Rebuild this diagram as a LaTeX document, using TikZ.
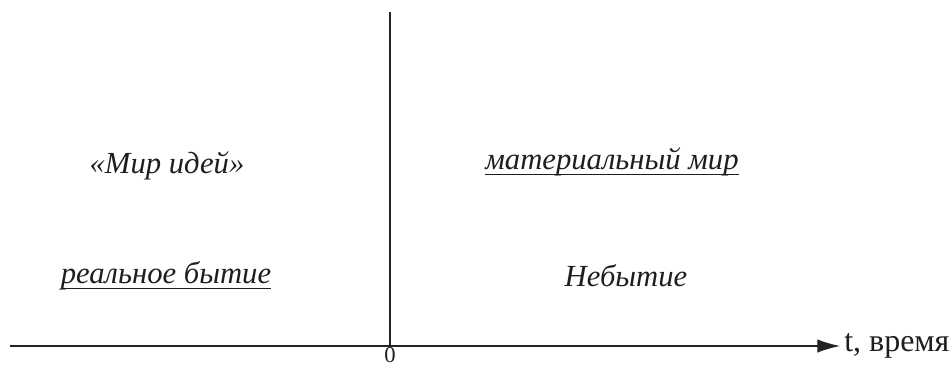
\documentclass[tikz,border=0pt]{standalone}
\usepackage{fontspec}
\setmainfont{Liberation Serif}
\usepackage{tikz}
\usetikzlibrary{arrows.meta, positioning}
\definecolor{axisgrey}{RGB}{35,35,35}
\definecolor{labelgrey}{RGB}{30,30,30}
\tikzset{
  axisline/.style={line width=0.8pt, color=axisgrey},
  axisarrow/.style={-{Latex[length=17pt,width=10pt]}, line width=0.8pt, color=axisgrey},
  worldlabel/.style={font=\fontsize{23}{26}\selectfont\itshape, text=labelgrey, inner sep=0pt, anchor=base},
  axislabel/.style={font=\fontsize{24}{27}\selectfont, text=labelgrey, inner sep=0pt},
  underlinestroke/.style={line width=1.1pt, color=labelgrey},
}

\begin{document}
\begin{tikzpicture}[x=0.75pt, y=0.75pt]
  \useasboundingbox (0,0) rectangle (952,369);
  % axes
  \coordinate (origin) at (390,23);
  \coordinate (tstart) at (10,23);
  \coordinate (tend) at (840,23);
  \coordinate (vtop) at (390,357);
  \draw[axisline] (origin) -- (vtop);
  \draw[axisarrow] (tstart) -- (tend);
  \node[axislabel, anchor=west] (tlabel) at ([xshift=3pt]tend) {t, время};
  \node[axislabel, font=\fontsize{17}{20}\selectfont, anchor=north] (zero) at ([yshift=-1pt]origin) {0};
  % left half: ideas / real being
  \node[worldlabel] (ideas) at (167,196) {«Мир идей»};
  \node[worldlabel] (realbeing) at (166,86) {реальное бытие};
  % right half: material world / non-being
  \node[worldlabel] (material) at (612,200) {материальный мир};
  \node[worldlabel] (nonbeing) at (626,83) {Небытие};
  % underlines
  \draw[underlinestroke] ([yshift=-4pt]realbeing.base west) -- ([yshift=-4pt]realbeing.base east);
  \draw[underlinestroke] ([yshift=-4pt]material.base west) -- ([yshift=-4pt]material.base east);
\end{tikzpicture}
\end{document}
